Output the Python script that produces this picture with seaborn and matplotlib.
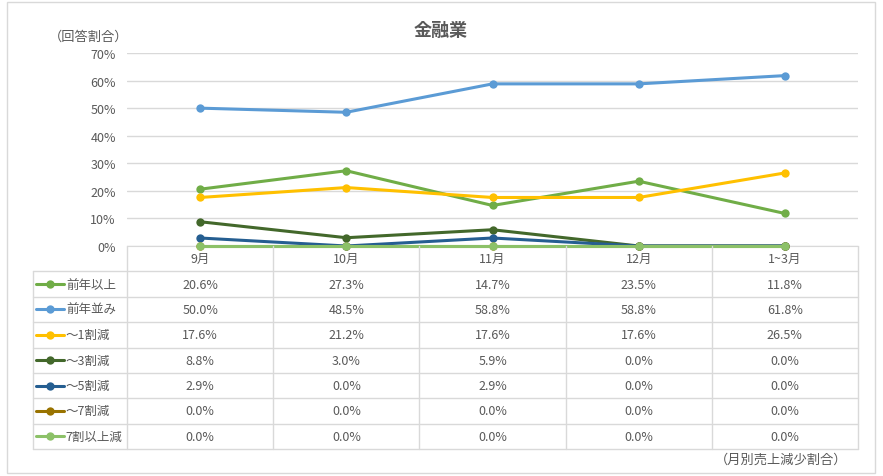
import numpy as np
import pandas as pd
import matplotlib.pyplot as plt
import seaborn as sns
from matplotlib.patches import Rectangle
from matplotlib.lines import Line2D

sns.set_style("white")
plt.rcParams['font.family'] = ['Noto Sans CJK JP', 'DejaVu Sans']

title = "金融業"
months = ['9月', '10月', '11月', '12月', '1~3月']
series_names = ['前年以上', '前年並み', '～1割減', '～3割減', '～5割減', '～7割減', '7割以上減']
zennen_ijou = [20.6, 27.3, 14.7, 23.5, 11.8]
zennen_nami = [50.0, 48.5, 58.8, 58.8, 61.8]
gen_1 = [17.6, 21.2, 17.6, 17.6, 26.5]
gen_3 = [8.8, 3.0, 5.9, 0.0, 0.0]
gen_5 = [2.9, 0.0, 2.9, 0.0, 0.0]
gen_7 = [0.0, 0.0, 0.0, 0.0, 0.0]
gen_7plus = [0.0, 0.0, 0.0, 0.0, 0.0]
colors = ['#70AD47', '#5B9BD5', '#FFC000', '#43682B', '#255E91', '#997300', '#8CC168']

values = [zennen_ijou, zennen_nami, gen_1, gen_3, gen_5, gen_7, gen_7plus]
rows = []
for name, vals in zip(series_names, values):
    for i, v in enumerate(vals):
        rows.append({'series': name, 'x': i, 'value': v})
df = pd.DataFrame(rows)

text_col = '#595959'
grid_col = '#D9D9D9'
fs = 9
W, H = 883, 477
fig = plt.figure(figsize=(W / 100, H / 100), dpi=100)

# outer frame
fig.patches.append(Rectangle((7 / W, 1 - 474 / H), 868 / W, 471 / H, transform=fig.transFigure,
                             fill=False, edgecolor=grid_col, linewidth=1))

# main line chart
ax = fig.add_axes([127 / W, 1 - 247 / H, 731 / W, 193 / H])
sns.lineplot(data=df, x='x', y='value', hue='series', hue_order=series_names,
             palette=colors, marker='o', markersize=6, markeredgewidth=0,
             linewidth=2.2, legend=False, sort=False, ax=ax)
for ln in ax.lines:
    ln.set_clip_on(False)
    ln.set_zorder(3)
ax.set_xlim(-0.5, len(months) - 0.5)
ax.set_ylim(0, 70)
ax.set_yticks(range(0, 71, 10))
ax.set_yticklabels([f"{t}%" for t in range(0, 71, 10)], color=text_col, fontsize=fs)
ax.set_xticks([])
ax.set_xlabel('')
ax.set_ylabel('')
ax.yaxis.grid(True, color=grid_col, linewidth=1)
ax.set_axisbelow(True)
for s in ['top', 'right', 'left']:
    ax.spines[s].set_visible(False)
ax.spines['bottom'].set_color(grid_col)
ax.tick_params(axis='y', length=0, pad=8)

fig.text(441 / W, 1 - 30 / H, title, ha='center', va='center', fontsize=13,
         fontweight='bold', color=text_col)
fig.text(49 / W, 1 - 37 / H, "（回答割合）", ha='left', va='center', fontsize=9.5, color=text_col)
fig.text(847 / W, 1 - 460 / H, "（月別売上減少割合）", ha='right', va='center', fontsize=9.5, color=text_col)

# data table
left_w = (127 - 33) / 146
tx0 = -0.5 - left_w
tax = fig.add_axes([33 / W, 1 - 450 / H, 825 / W, 203 / H])
tax.set_xlim(tx0, len(months) - 0.5)
tax.set_ylim(len(series_names) + 1, 0)
tax.axis('off')

nrow = len(series_names) + 1
# vertical lines
for j in range(len(months) + 1):
    tax.plot([j - 0.5, j - 0.5], [0, nrow], color=grid_col, lw=1, clip_on=False)
tax.plot([tx0, tx0], [1, nrow], color=grid_col, lw=1, clip_on=False)
# horizontal lines
for r in range(1, nrow + 1):
    tax.plot([tx0, len(months) - 0.5], [r, r], color=grid_col, lw=1, clip_on=False)

for j, m in enumerate(months):
    tax.text(j, 0.5, m, ha='center', va='center', fontsize=fs, color=text_col)

for r, (name, vals, c) in enumerate(zip(series_names, values, colors), start=1):
    y = r + 0.5
    tax.add_line(Line2D([tx0 + 0.02, tx0 + 0.21], [y, y], color=c, lw=2.2, clip_on=False))
    tax.plot([tx0 + 0.115], [y], marker='o', color=c, markersize=6, markeredgewidth=0, clip_on=False)
    tax.text(tx0 + 0.225, y, name, ha='left', va='center', fontsize=fs, color=text_col)
    for j, v in enumerate(vals):
        tax.text(j, y, f"{v:.1f}%", ha='center', va='center', fontsize=fs, color=text_col)

fig.savefig('out.png', dpi=100)
